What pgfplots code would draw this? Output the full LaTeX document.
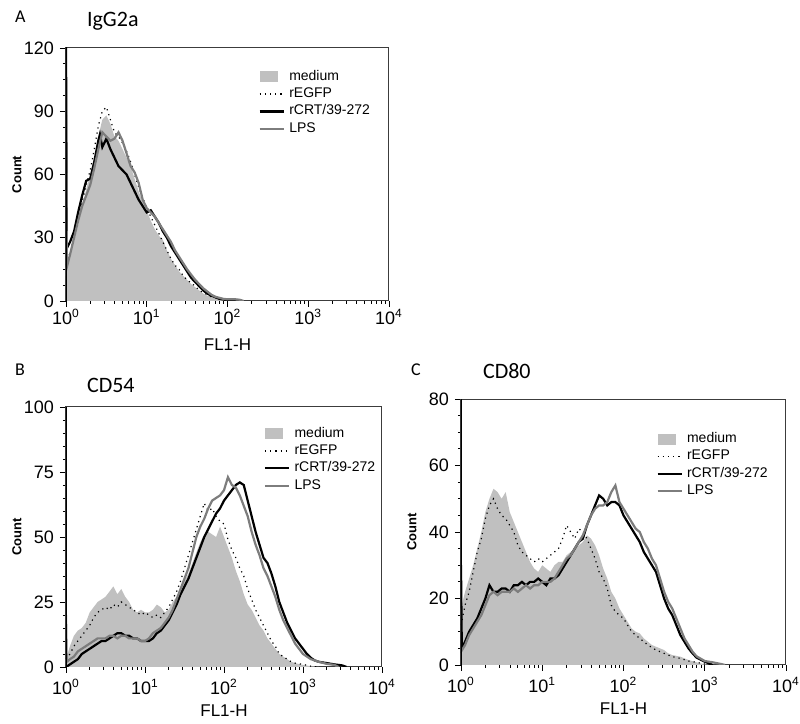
\documentclass[border=0pt]{standalone}
\usepackage{pgfplots}
\pgfplotsset{compat=1.18}
\usepackage{fontspec}
\setmainfont{Liberation Sans}
\newfontfamily\titlefont{Carlito}
\definecolor{medfill}{RGB}{192,192,192}
\definecolor{lpsgray}{RGB}{125,125,125}
\definecolor{framegray}{RGB}{60,60,60}

\pgfplotsset{
  flow/.style={
    scale only axis, anchor=south west,
    xmin=0, xmax=4,
    xtick={0,1,2,3,4},
    xticklabels={10\textsuperscript{0},10\textsuperscript{1},10\textsuperscript{2},10\textsuperscript{3},10\textsuperscript{4}},
    minor xtick={0.30103,0.47712,0.60206,0.69897,0.77815,0.84510,0.90309,0.95424,
                 1.30103,1.47712,1.60206,1.69897,1.77815,1.84510,1.90309,1.95424,
                 2.30103,2.47712,2.60206,2.69897,2.77815,2.84510,2.90309,2.95424,
                 3.30103,3.47712,3.60206,3.69897,3.77815,3.84510,3.90309,3.95424},
    ymin=0,
    minor y tick num=3,
    tick align=outside,
    major tick length=3pt, minor tick length=1.5pt,
    tick style={black, line width=0.4pt},
    xtick pos=bottom, ytick pos=left,
    axis line style={framegray, line width=0.5pt},
    tick label style={font=\fontsize{9}{10}\selectfont},
    xticklabel style={anchor=center, yshift=-7pt},
    yticklabel style={xshift=0.5pt},
    /pgf/number format/assume math mode=true,
    xlabel={FL1-H}, ylabel={\bfseries Count},
    xlabel style={font=\fontsize{8.5}{9}\selectfont, at={(rel axis cs:0.5,0)}, anchor=center, yshift=-22pt},
    ylabel style={font=\fontsize{6.5}{7}\selectfont, at={([xshift=-24.5pt]rel axis cs:0,0.5)}, anchor=center},
    legend cell align=left,
    legend style={draw=none, fill=none, font=\fontsize{7}{7}\selectfont,
                  row sep=-1.8pt, inner sep=0pt, anchor=north west},
    legend image code/.code={\draw[#1] (0cm,0cm) -- (0.43cm,0cm);},
  },
  medium/.style={fill=medfill, draw=none, area legend,
    legend image code/.code={\fill[medfill] (0cm,-0.1cm) rectangle (0.32cm,0.1cm);}},
  regfp/.style={black, line width=0.6pt, dotted},
  rcrt/.style={black, line width=1.1pt},
  lps/.style={lpsgray, line width=1.1pt},
}

\begin{document}
\begin{tikzpicture}
\useasboundingbox (0,0) rectangle (400pt,362pt);

% ---------- A: IgG2a ----------
\node[anchor=west, font=\titlefont\fontsize{9}{10}\selectfont] at (4pt,353.5pt) {A};
\node[anchor=west, font=\titlefont\fontsize{11}{12}\selectfont] at (40pt,351.5pt) {IgG2a};
\begin{axis}[flow, at={(33pt,211.5pt)}, width=161.5pt, height=126.5pt,
  ymax=120, ytick={0,30,60,90,120},
  xticklabel style={yshift=2pt},
  legend style={at={(rel axis cs:0.595,0.93)}}]
\addplot[medium] coordinates {
 (0,16) (0.05,22) (0.1,28) (0.15,36) (0.2,44) (0.25,53) (0.3,60) (0.35,68) (0.4,78) (0.45,86)
 (0.5,88) (0.55,84) (0.6,78) (0.65,76) (0.7,72) (0.75,68) (0.8,64) (0.85,58) (0.9,52) (0.95,47)
 (1.0,43) (1.05,38) (1.1,34) (1.15,31) (1.2,29) (1.25,24) (1.3,20) (1.35,17) (1.4,14) (1.45,12)
 (1.5,10) (1.55,8) (1.6,6.5) (1.65,5) (1.7,3.5) (1.75,2.5) (1.8,2) (1.85,1.2) (1.9,0.8) (1.95,0.5)
 (2.0,0.3) (2.1,0)} \closedcycle;
\addlegendentry{medium}
\addplot[regfp] coordinates {
 (0,17) (0.05,23) (0.1,30) (0.15,38) (0.2,47) (0.25,55) (0.3,62) (0.35,72) (0.4,83) (0.45,90)
 (0.5,92) (0.55,86) (0.6,80) (0.65,78) (0.7,75) (0.75,71) (0.8,66) (0.85,60) (0.9,54) (0.95,49)
 (1.0,44) (1.05,40) (1.1,36) (1.15,32) (1.2,28) (1.25,24) (1.3,20) (1.35,17) (1.4,15) (1.45,12)
 (1.5,10) (1.55,8.5) (1.6,7) (1.65,5) (1.7,4) (1.75,3) (1.8,2) (1.85,1.5) (1.9,1) (2.0,0.5) (2.05,0)};
\addlegendentry{rEGFP}
\addplot[rcrt] coordinates {
 (0,125) (0.01,25) (0.05,28) (0.1,33) (0.15,42) (0.2,50) (0.25,57) (0.3,58) (0.35,66) (0.4,76)
 (0.42,79) (0.45,73) (0.5,77) (0.55,72) (0.6,68) (0.65,64) (0.7,62) (0.75,60) (0.8,56) (0.85,52)
 (0.9,48) (0.95,45) (1.0,42) (1.05,43) (1.1,40) (1.15,37) (1.2,33) (1.25,30) (1.3,26) (1.35,23)
 (1.4,20) (1.45,17) (1.5,14) (1.55,11) (1.6,9) (1.65,7) (1.7,5) (1.75,3.5) (1.8,2.5) (1.85,1.8)
 (1.9,1) (2.0,0.4) (2.1,0)};
\addlegendentry{rCRT/39-272}
\addplot[lps] coordinates {
 (0,105) (0.01,16) (0.05,22) (0.1,30) (0.15,38) (0.2,45) (0.25,50) (0.3,55) (0.35,63) (0.4,72)
 (0.45,80) (0.5,78) (0.55,76) (0.6,77) (0.65,80) (0.7,76) (0.75,70) (0.8,64) (0.85,61) (0.9,56)
 (0.95,48) (1.0,44) (1.05,42) (1.1,40) (1.15,37) (1.2,34) (1.25,31) (1.3,28) (1.35,24) (1.4,21)
 (1.45,18) (1.5,15) (1.55,12.5) (1.6,10) (1.65,8) (1.7,6) (1.75,4.5) (1.8,3) (1.85,2) (1.9,1.5)
 (1.95,1) (2.0,0.8) (2.1,0.8) (2.15,0.6) (2.2,0)};
\addlegendentry{LPS}
\draw[black, line width=1.1pt] (rel axis cs:0,0) -- (rel axis cs:0,1);
\end{axis}

% ---------- B: CD54 ----------
\node[anchor=west, font=\titlefont\fontsize{9}{10}\selectfont] at (4pt,177pt) {B};
\node[anchor=west, font=\titlefont\fontsize{11}{12}\selectfont] at (40pt,169.5pt) {CD54};
\begin{axis}[flow, at={(33pt,28.5pt)}, width=158pt, height=130pt,
  ymax=100, ytick={0,25,50,75,100}, minor y tick num=4,
  legend style={at={(rel axis cs:0.625,0.94)}}]
\addplot[medium] coordinates {
 (0,3) (0.05,8) (0.1,12) (0.15,14) (0.2,15) (0.25,17) (0.3,21) (0.35,23) (0.4,25) (0.45,26)
 (0.5,27) (0.55,29) (0.6,31) (0.65,28) (0.7,30) (0.75,27) (0.8,25) (0.85,22) (0.9,21) (0.95,22)
 (1.0,21) (1.05,21) (1.1,22) (1.15,24) (1.2,23) (1.25,21) (1.3,22) (1.35,25) (1.4,27) (1.45,30)
 (1.5,33) (1.55,36) (1.6,40) (1.65,44) (1.7,48) (1.75,51) (1.8,52) (1.85,51) (1.9,50) (1.95,54)
 (2.0,50) (2.05,46) (2.1,42) (2.15,37) (2.2,33) (2.25,28) (2.3,24) (2.35,22) (2.4,19) (2.45,16)
 (2.5,14) (2.55,11) (2.6,9) (2.65,7) (2.7,5) (2.75,4) (2.8,3) (2.85,2) (2.9,1.5) (3.0,0.8)
 (3.1,0.3) (3.2,0)} \closedcycle;
\addlegendentry{medium}
\addplot[regfp] coordinates {
 (0,3) (0.05,5) (0.1,8) (0.15,10) (0.2,12) (0.25,14) (0.3,16) (0.35,19) (0.4,21) (0.45,22)
 (0.5,23) (0.55,22) (0.6,24) (0.65,23) (0.7,25) (0.75,24) (0.8,23) (0.85,22) (0.9,21) (0.95,20)
 (1.0,21) (1.05,20) (1.1,19) (1.15,20) (1.2,19) (1.25,21) (1.3,23) (1.35,26) (1.4,29) (1.45,33)
 (1.5,38) (1.55,43) (1.6,48) (1.65,53) (1.7,58) (1.75,63) (1.8,60) (1.85,61) (1.9,58) (1.95,56)
 (2.0,55) (2.05,49) (2.1,45) (2.15,42) (2.2,38) (2.25,35) (2.3,30) (2.35,26) (2.4,22) (2.45,19)
 (2.5,16) (2.55,13) (2.6,10) (2.65,8) (2.7,5) (2.75,4) (2.8,3) (2.85,2) (2.9,1.5) (3.0,1)
 (3.1,0.3) (3.2,0)};
\addlegendentry{rEGFP}
\addplot[rcrt] coordinates {
 (0,0) (0.05,1) (0.1,2) (0.15,3) (0.2,5) (0.25,6) (0.3,7) (0.35,8) (0.4,9) (0.45,10)
 (0.5,10) (0.55,11) (0.6,12) (0.65,13) (0.7,13) (0.75,12) (0.8,12) (0.85,11) (0.9,11) (0.95,10)
 (1.0,10) (1.05,10) (1.1,11) (1.15,13) (1.2,14) (1.25,16) (1.3,18) (1.35,21) (1.4,24) (1.45,28)
 (1.5,31) (1.55,34) (1.6,38) (1.65,42) (1.7,46) (1.75,50) (1.8,53) (1.85,56) (1.9,59) (1.95,61)
 (2.0,64) (2.05,66) (2.1,68) (2.15,70) (2.2,71) (2.25,70) (2.3,64) (2.35,58) (2.4,52) (2.45,47)
 (2.5,42) (2.55,40) (2.6,36) (2.65,31) (2.7,25) (2.75,21) (2.8,17) (2.85,14) (2.9,11) (2.95,9)
 (3.0,7) (3.05,5) (3.1,3.5) (3.15,2.5) (3.2,2) (3.3,1.5) (3.4,1) (3.5,0.6) (3.55,0)};
\addlegendentry{rCRT/39-272}
\addplot[lps] coordinates {
 (0,20) (0.01,2) (0.05,3) (0.1,4) (0.15,6) (0.2,7) (0.25,8) (0.3,9) (0.35,10) (0.4,11) (0.45,11)
 (0.5,11) (0.55,12) (0.6,12) (0.65,11) (0.7,12) (0.75,12) (0.8,11) (0.85,11) (0.9,11) (0.95,10)
 (1.0,10) (1.05,11) (1.1,13) (1.15,14) (1.2,15) (1.25,17) (1.3,19) (1.35,22) (1.4,26) (1.45,30)
 (1.5,34) (1.55,38) (1.6,44) (1.65,50) (1.7,54) (1.75,57) (1.8,61) (1.85,64) (1.9,65) (1.95,66)
 (2.0,68) (2.05,73) (2.1,70) (2.15,69) (2.2,66) (2.25,62) (2.3,58) (2.35,52) (2.4,47) (2.45,43)
 (2.5,38) (2.55,35) (2.6,31) (2.65,27) (2.7,22) (2.75,18) (2.8,15) (2.85,12) (2.9,9) (2.95,7)
 (3.0,5) (3.05,4) (3.1,3) (3.2,2) (3.3,1.2) (3.4,0.8) (3.45,0)};
\addlegendentry{LPS}
\draw[black, line width=1.1pt] (rel axis cs:0,0) -- (rel axis cs:0,1);
\end{axis}

% ---------- C: CD80 ----------
\node[anchor=west, font=\titlefont\fontsize{9}{10}\selectfont] at (202pt,177pt) {C};
\node[anchor=west, font=\titlefont\fontsize{11}{12}\selectfont] at (238pt,176.5pt) {CD80};
\begin{axis}[flow, at={(230.5pt,29.5pt)}, width=162.5pt, height=133pt,
  ymax=80, ytick={0,20,40,60,80},
  legend style={at={(rel axis cs:0.6,0.89)}}]
\addplot[medium] coordinates {
 (0,17) (0.05,22) (0.1,26) (0.15,30) (0.2,35) (0.25,40) (0.3,46) (0.35,50) (0.4,53) (0.45,52)
 (0.5,50) (0.55,52) (0.6,46) (0.65,43) (0.7,40) (0.75,37) (0.8,34) (0.85,31) (0.9,29) (0.95,28)
 (1.0,30) (1.05,29) (1.1,28) (1.15,30) (1.2,31) (1.25,31) (1.3,33) (1.35,34) (1.4,35) (1.45,36)
 (1.5,37) (1.55,39) (1.6,38) (1.65,36) (1.7,33) (1.75,29) (1.8,26) (1.85,22) (1.9,20) (1.95,17)
 (2.0,15) (2.05,13) (2.1,11) (2.15,10) (2.2,9.5) (2.25,8) (2.3,7) (2.35,6) (2.4,5.5) (2.45,5)
 (2.5,4.5) (2.55,3.5) (2.6,3) (2.7,2.5) (2.8,1.5) (2.9,0.8) (3.0,0.2) (3.05,0)} \closedcycle;
\addlegendentry{medium}
\addplot[regfp] coordinates {
 (0,12) (0.05,18) (0.1,22) (0.15,28) (0.2,34) (0.25,38) (0.3,44) (0.35,48) (0.4,50) (0.45,47)
 (0.5,45) (0.55,44) (0.6,42) (0.65,40) (0.7,36) (0.75,34) (0.8,33) (0.85,32) (0.9,31) (0.95,32)
 (1.0,31) (1.05,32) (1.1,33) (1.15,34) (1.2,35) (1.25,38) (1.3,42) (1.35,40) (1.4,38) (1.45,41)
 (1.5,40) (1.55,38) (1.6,35) (1.65,32) (1.7,28) (1.75,26) (1.8,23) (1.85,18) (1.9,16) (1.95,15)
 (2.0,14) (2.05,12) (2.1,10) (2.15,9) (2.2,8) (2.25,7) (2.3,6) (2.4,4.5) (2.5,3.5) (2.6,2.5)
 (2.7,2) (2.8,1.2) (2.9,0.8) (3.0,0.3) (3.1,0)};
\addlegendentry{rEGFP}
\addplot[rcrt] coordinates {
 (0,30) (0.01,5) (0.05,7) (0.1,10) (0.15,12) (0.2,14) (0.25,17) (0.3,20) (0.35,24) (0.4,22)
 (0.45,22) (0.5,23) (0.55,23) (0.6,22) (0.65,24) (0.7,24) (0.75,25) (0.8,24) (0.85,25) (0.9,25)
 (0.95,26) (1.0,25) (1.05,24) (1.1,26) (1.15,26) (1.2,27) (1.25,29) (1.3,31) (1.35,33) (1.4,35)
 (1.45,37) (1.5,38) (1.55,42) (1.6,45) (1.65,48) (1.7,51) (1.75,50) (1.8,48) (1.85,49) (1.9,49)
 (1.95,48) (2.0,45) (2.05,43) (2.1,41) (2.15,39) (2.2,37) (2.25,34) (2.3,32) (2.35,30) (2.4,28)
 (2.45,24) (2.5,20) (2.55,17) (2.6,15) (2.65,12) (2.7,9) (2.75,7) (2.8,5) (2.85,3.5) (2.9,2.2)
 (3.0,1) (3.05,0.5) (3.1,0)};
\addlegendentry{rCRT/39-272}
\addplot[lps] coordinates {
 (0,4) (0.05,6) (0.1,9) (0.15,11) (0.2,13) (0.25,15) (0.3,18) (0.35,21) (0.4,22) (0.45,21)
 (0.5,22) (0.55,22) (0.6,22) (0.65,23) (0.7,22) (0.75,23) (0.8,24) (0.85,23) (0.9,24) (0.95,24)
 (1.0,25) (1.05,25) (1.1,25) (1.15,26) (1.2,28) (1.25,30) (1.3,32) (1.35,33) (1.4,35) (1.45,37)
 (1.5,39) (1.55,42) (1.6,45) (1.65,47) (1.7,48) (1.75,48) (1.8,49) (1.85,52) (1.9,54) (1.95,49)
 (2.0,47) (2.05,45) (2.1,43) (2.15,41) (2.2,40) (2.25,37) (2.3,35) (2.35,32) (2.4,30) (2.45,26)
 (2.5,22) (2.55,19) (2.6,17) (2.65,14) (2.7,11) (2.75,8) (2.8,6) (2.85,4) (2.9,2.6) (3.0,1.2)
 (3.1,0.8) (3.2,0.3) (3.25,0)};
\addlegendentry{LPS}
\draw[black, line width=1.1pt] (rel axis cs:0,0) -- (rel axis cs:0,1);
\end{axis}
\end{tikzpicture}
\end{document}
